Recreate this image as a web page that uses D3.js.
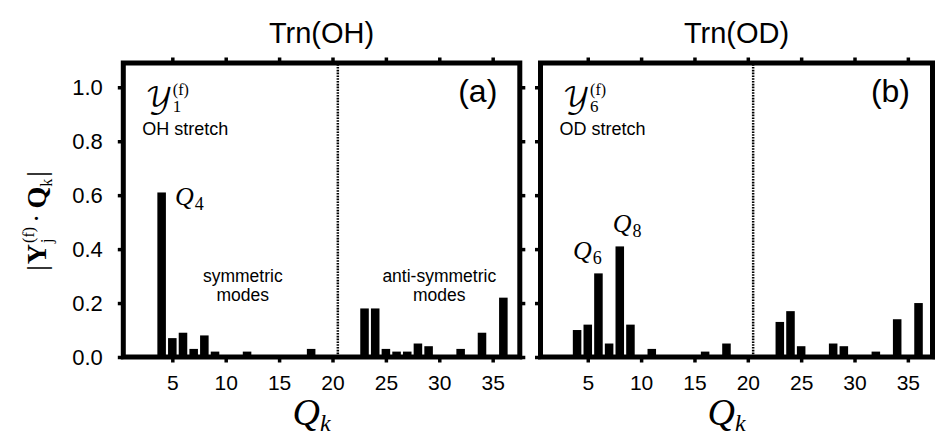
<!DOCTYPE html>
<html><head><meta charset="utf-8">
<script src="https://cdn.jsdelivr.net/npm/d3@7"></script>
<style>body{margin:0;background:#fff} svg{display:block}</style>
</head><body><svg id="c" width="935" height="437"></svg>
<script>
// ---------------- data ----------------
const modes = d3.range(1, 37);              // normal modes Q1..Q36
const ohValues = [0,0,0,0.61,0.07,0.09,0.03,0.08,0.02,0,0,0.02,0,0,0,0,0,0.03,0,0,0,0,0.18,0.18,0.03,0.02,0.02,0.05,0.04,0,0,0.03,0,0.09,0,0.22];
const odValues = [0,0,0,0.10,0.12,0.31,0.05,0.41,0.12,0,0.03,0,0,0,0,0.02,0,0.05,0,0,0,0,0.13,0.17,0.04,0,0,0.05,0.04,0,0,0.02,0,0.14,0,0.20];
const xTicks = [5,10,15,20,25,30,35];
const yTicks = [0,0.2,0.4,0.6,0.8,1.0];
const panelTitles = ["Trn(OH)","Trn(OD)"];
const panelLetters = ["(a)","(b)"];
const stretchIndex = ["1","6"];
const stretchLabels = ["OH stretch","OD stretch"];
const symBoundary = 20.5;

// ---------------- layout ----------------
const svg = d3.select('#c');
const SANS = "'Liberation Sans', Arial, Helvetica, sans-serif";
const SERIF = "'Liberation Serif', 'Times New Roman', serif";
const SCRIPT = "'DejaVu Math TeX Gyre', 'Noto Sans Math', 'STIX Two Math', 'DejaVu Serif', serif";
const y = d3.scaleLinear().domain([0, 1.09]).range([357, 63]);
const panels = [
  {values: ohValues, x: d3.scaleLinear().domain([0.41, 37.54]).range([123.3, 519.8])},
  {values: odValues, x: d3.scaleLinear().domain([0.57, 37.31]).range([540.5, 932.5])}
];

// one <text> element with absolutely placed tspans (sub/superscripts, stacks)
function mathText(g, x, yy, parts, anchor) {
  const text = g.append('text').attr('fill', '#000');
  let cx = 0;
  const add = (p, at) => {
    const s = text.append('tspan')
      .attr('x', at + (p.dx || 0)).attr('y', p.dy || 0)
      .attr('font-family', p.family || SERIF).attr('font-size', p.size)
      .attr('font-style', p.italic ? 'italic' : 'normal')
      .attr('font-weight', p.bold ? 'bold' : 'normal')
      .text(p.t);
    return s.node().getComputedTextLength();
  };
  parts.forEach(p => {
    if (p.stack) {
      let w = 0;
      p.stack.forEach(q => { w = Math.max(w, add(q, cx)); });
      cx += w + (p.gap || 0);
    } else {
      cx += add(p, cx) + (p.gap || 0);
    }
  });
  const shift = anchor === 'middle' ? -cx / 2 : anchor === 'end' ? -cx : 0;
  text.attr('transform', `translate(${x + shift},${yy})`);
  return text;
}

panels.forEach((P, i) => {
  const g = svg.append('g');
  const x = P.x;
  const [x0, x1] = x.range();

  // bars
  g.selectAll('rect.bar').data(modes.map((m, j) => ({m, v: P.values[j]})).filter(d => d.v > 0))
    .enter().append('rect').attr('class', 'bar')
    .attr('x', d => x(d.m - 0.4)).attr('width', d => x(d.m + 0.4) - x(d.m - 0.4))
    .attr('y', d => y(d.v)).attr('height', d => y(0) - y(d.v))
    .attr('fill', '#000');

  // dotted separator between symmetric / anti-symmetric modes
  g.append('line').attr('x1', x(symBoundary)).attr('x2', x(symBoundary))
    .attr('y1', y.range()[0]).attr('y2', y.range()[1])
    .attr('stroke', '#000').attr('stroke-width', 2.5).attr('stroke-dasharray', '1.6,1.2');

  // axes (ticks outward)
  const styleAxis = sel => { sel.select('.domain').remove(); sel.selectAll('.tick line').attr('stroke', '#000').attr('stroke-width', 3.5); };
  const bottom = g.append('g').attr('transform', `translate(0,${y(0)})`)
    .call(d3.axisBottom(x).tickValues(xTicks).tickSize(5.5).tickPadding(13).tickFormat(d3.format('d')));
  styleAxis(bottom);
  bottom.selectAll('.tick text').attr('font-family', SANS).attr('font-size', 21).attr('fill', '#000');
  const top = g.append('g').attr('transform', `translate(0,${y.range()[1]})`)
    .call(d3.axisTop(x).tickValues(xTicks).tickSize(5.5).tickFormat(''));
  styleAxis(top);
  const left = g.append('g').attr('transform', `translate(${x0},0)`)
    .call(d3.axisLeft(y).tickValues(yTicks).tickSize(5.5).tickPadding(15).tickFormat(i === 0 ? d3.format('.1f') : ''));
  styleAxis(left);
  left.selectAll('.tick text').attr('font-family', SANS).attr('font-size', 22).attr('fill', '#000');
  const right = g.append('g').attr('transform', `translate(${x1},0)`)
    .call(d3.axisRight(y).tickValues(yTicks).tickSize(5.5).tickFormat(''));
  styleAxis(right);

  // frame
  g.append('rect').attr('x', x0).attr('y', y.range()[1]).attr('width', x1 - x0)
    .attr('height', y.range()[0] - y.range()[1])
    .attr('fill', 'none').attr('stroke', '#000').attr('stroke-width', 5);

  // title
  g.append('text').attr('x', (x0 + x1) / 2).attr('y', 42.5).attr('text-anchor', 'middle')
    .attr('font-family', SANS).attr('font-size', 29).text(panelTitles[i]);
  // panel letter
  g.append('text').attr('x', x1 - 22.5).attr('y', 102).attr('text-anchor', 'end')
    .attr('font-family', SANS).attr('font-size', 32).text(panelLetters[i]);
  // script Y_n^(f)
  mathText(g, x0 + 22, 108, [
    {t: '\u{1D4B4}', size: 28, family: SCRIPT, gap: 0},
    {stack: [{t: '(f)', size: 16, dy: -13.5}, {t: stretchIndex[i], size: 17, dy: 4}]}
  ], 'start');
  g.append('text').attr('x', x0 + 19).attr('y', 135).attr('font-family', SANS)
    .attr('font-size', 18).text(stretchLabels[i]);

  // x label
  mathText(g, (x0 + x1) / 2 - 10, 425, [
    {t: 'Q', size: 38, italic: true, gap: 0},
    {t: 'k', size: 24, italic: true, dy: 6}
  ], 'middle');
});

// panel (a) annotations
const xa = panels[0].x, xb = panels[1].x;
mathText(svg, xa(4) + 13.4, y(ohValues[3]) + 13, [
  {t: 'Q', size: 26, italic: true, gap: 1}, {t: '4', size: 18, dy: 5}], 'start');
[['symmetric', 'modes', 11.6], ['anti-symmetric', 'modes', 30.0]].forEach(([a, b, c]) => {
  svg.append('text').attr('x', xa(c)).attr('y', 281.7).attr('text-anchor', 'middle')
    .attr('font-family', SANS).attr('font-size', 17.5).text(a);
  svg.append('text').attr('x', xa(c)).attr('y', 300.7).attr('text-anchor', 'middle')
    .attr('font-family', SANS).attr('font-size', 17.5).text(b);
});
// panel (b) annotations
mathText(svg, xb(6) - 25.4, y(odValues[5]) - 14.7, [
  {t: 'Q', size: 26, italic: true, gap: 1}, {t: '6', size: 18, dy: 5}], 'start');
mathText(svg, xb(8) - 7, y(odValues[7]) - 14.4, [
  {t: 'Q', size: 26, italic: true, gap: 1}, {t: '8', size: 18, dy: 5}], 'start');

// y-axis label (rotated)
const yl = svg.append('g').attr('transform', 'translate(46,221) rotate(-90)');
mathText(yl, 0, 0, [
  {t: '|', size: 28, gap: 1},
  {t: 'Y', size: 28, bold: true, gap: 1},
  {stack: [{t: '(f)', size: 16, dy: -12}, {t: 'j', size: 16, dy: 6}], gap: 4},
  {t: '\u00B7', size: 28, gap: 5},
  {t: 'Q', size: 28, bold: true, gap: 0},
  {t: 'k', size: 16, dy: 6, gap: 2},
  {t: '|', size: 28}
], 'middle');
</script></body></html>
